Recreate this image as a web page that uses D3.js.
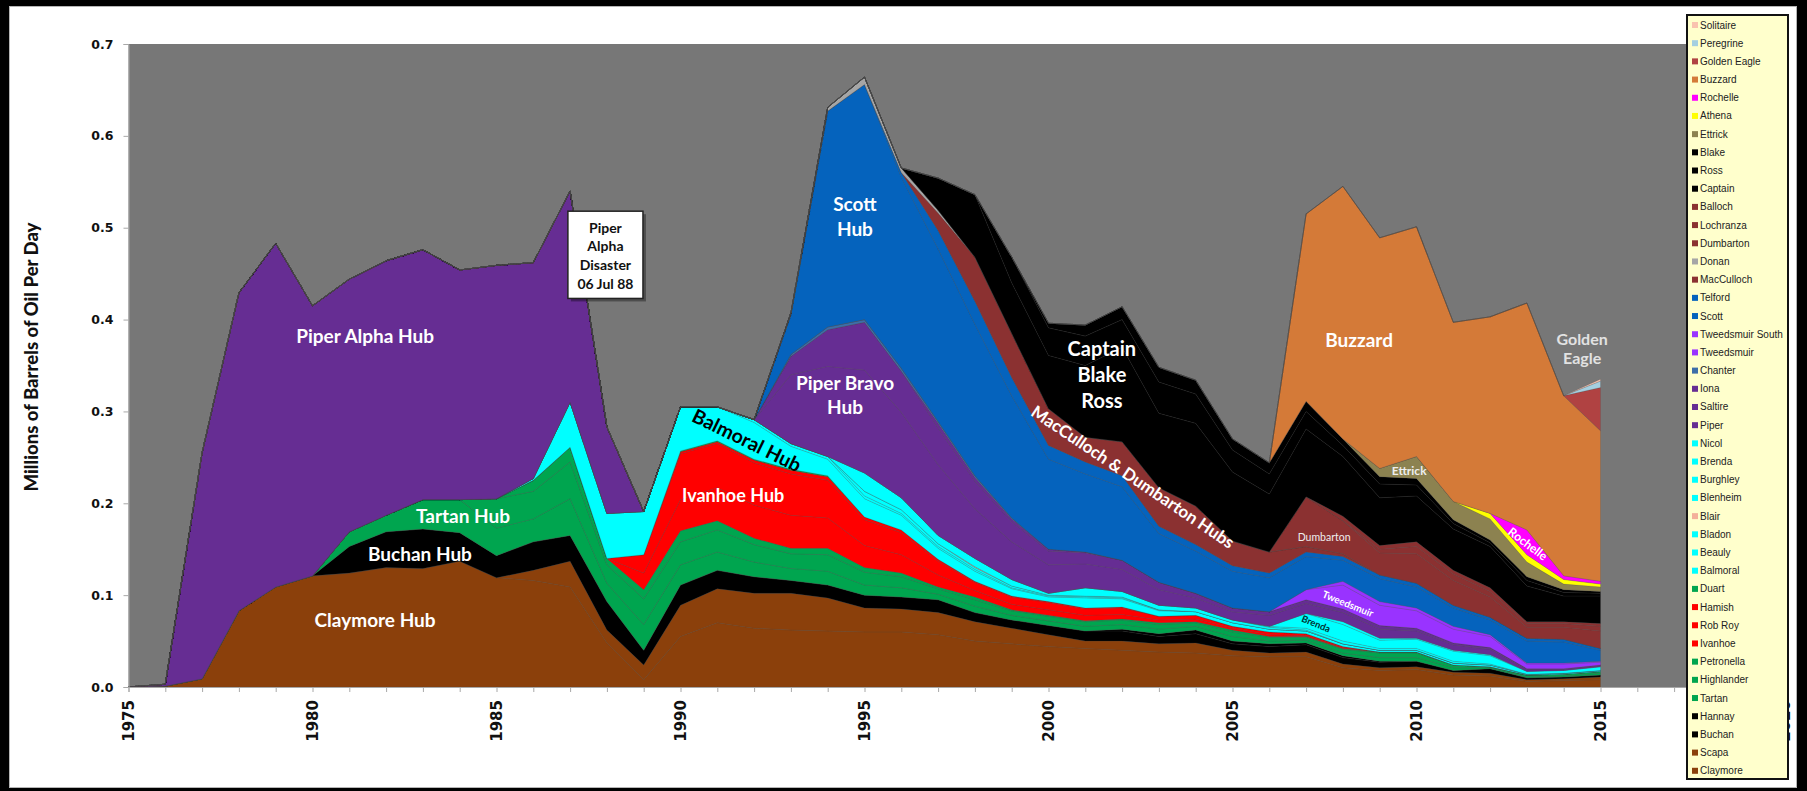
<!DOCTYPE html>
<html>
<head>
<meta charset="utf-8">
<script src="https://cdn.jsdelivr.net/npm/d3@7"></script>
<style>
  html, body { margin: 0; padding: 0; background: #000; }
  svg { display: block; }
</style>
</head>
<body>
<div id="chart"></div>
<script>
// oil production, millions of barrels per day
// each array starts at the field's first year; missing years are zero
const claymore = [0, 0.001, 0.009, 0.083, 0.109, 0.121, 0.124, 0.130, 0.129, 0.137, 0.119, 0.116, 0.109, 0.048, 0.008,
    0.055, 0.070, 0.064, 0.062, 0.061, 0.060, 0.060, 0.057, 0.050, 0.047, 0.044, 0.042, 0.040, 0.038, 0.037, 0.034,
    0.033, 0.033, 0.021, 0.018, 0.019, 0.013, 0.012, 0.006, 0.007, 0.008];                       // from 1975
const scapa = [0.011, 0.028, 0.014, 0.016, 0.034, 0.037, 0.038, 0.040, 0.036, 0.026, 0.025, 0.024, 0.021, 0.017,
    0.013, 0.008, 0.010, 0.009, 0.011, 0.006, 0.004, 0.005, 0.004, 0.003, 0.003, 0.003, 0.003, 0.002, 0.002, 0.003]; // 1986
const buchan = [0.029, 0.039, 0.043, 0.031, 0.024, 0.031, 0.028, 0.031, 0.016, 0.022, 0.020, 0.018, 0.014, 0.014,
    0.014, 0.013, 0.014, 0.010, 0.009, 0.010, 0.011, 0.011, 0.008, 0.010, 0.007, 0.007, 0.008, 0.007, 0.006, 0.006,
    0.002, 0.005, 0.002, 0.002, 0.002];                                                            // 1981
const hannay = [0.002, 0.003, 0.004, 0.003, 0.003, 0.002, 0.002, 0.001];                          // 2002
const tartan = [0.016, 0.018, 0.032, 0.036, 0.030, 0.025, 0.040, 0.020, 0.028, 0.022, 0.020, 0.016, 0.013, 0.015,
    0.011, 0.010, 0.006, 0.007, 0.005, 0.005, 0.005, 0.005, 0.005, 0.004, 0.005, 0.003, 0.003, 0.003, 0.004, 0.004,
    0.003, 0.001, 0.001, 0.001, 0.002];                                                            // 1981
const highlander = [0.032, 0.030, 0.040, 0.020, 0.028, 0.025, 0.024, 0.019, 0.016, 0.018, 0.014, 0.012, 0.006,
    0.007, 0.005, 0.005, 0.005, 0.005, 0.005, 0.004, 0.005, 0.004, 0.003, 0.004, 0.005, 0.005, 0.003, 0.001, 0.002,
    0.002, 0.002];                                                                                 // 1985
const petronella = [0.012, 0.016, 0.007, 0.010, 0.012, 0.010, 0.007, 0.006, 0.007, 0.005, 0.004, 0.002, 0.003,
    0.001, 0.001, 0.001, 0.001, 0.002, 0.001, 0.002, 0.001, 0.001, 0.001, 0.001, 0.001];           // 1986
const ivanhoe = [0.018, 0.034, 0.036, 0.036, 0.036, 0.033, 0.024, 0.020, 0.013, 0.007, 0.006, 0.006, 0.006, 0.005,
    0.003, 0.003, 0.002, 0.002, 0.001, 0.001];                                                     // 1989
const robRoy = [0.020, 0.050, 0.048, 0.046, 0.045, 0.041, 0.028, 0.024, 0.015, 0.009, 0.008, 0.008, 0.007, 0.007,
    0.004, 0.004, 0.002, 0.003, 0.002, 0.001];                                                     // 1989
const hamish = [0.002, 0.002, 0.003, 0.004, 0.004, 0.003, 0.003, 0.002, 0.001, 0.001, 0.001, 0.001, 0.001]; // 1990
const duart = [0.001, 0.001, 0.001, 0.001, 0.001];                                                // 1990
const balmoral = [0.002, 0.049, 0.049, 0.047, 0.048, 0.037, 0.040, 0.025, 0.018, 0.020, 0.016, 0.012, 0.011, 0.008,
    0.005, 0.011, 0.009, 0.006, 0.004, 0.004, 0.003, 0.003, 0.003, 0.002, 0.002, 0.002, 0.002, 0.001, 0.001, 0.001]; // 1986
const beauly = [0.003, 0.003, 0.003, 0.003, 0.002, 0.002, 0.002, 0.001, 0.001, 0.001, 0.001, 0.001]; // 1992
const bladon = [0.005, 0.004, 0.003, 0.002, 0.002, 0.001, 0.001, 0.001];                          // 1995
const blair = [0.001];                                                                            // 1998
const blenheim = [0.020, 0.013, 0.009, 0.009, 0.007, 0.002, 0.009, 0.006, 0.005, 0.004, 0.003, 0.002, 0.001]; // 1995
const burghley = [0.001, 0.002, 0.003, 0.002, 0.002, 0.002, 0.001];                               // 2006
const brenda = [0.016, 0.018, 0.009, 0.010, 0.011, 0.009, 0.003, 0.003, 0.004];                   // 2007
const nicol = [0.003, 0.002, 0.001, 0.001, 0.001];                                                // 2008
const piper = [0.002, 0.246, 0.346, 0.374, 0.294, 0.275, 0.277, 0.272, 0.250, 0.254, 0.235, 0.230, 0.094, 0, 0, 0,
    0, 0.075, 0.098, 0.112, 0.093, 0.077, 0.054, 0.041, 0.031, 0.026, 0.024, 0.017, 0.011, 0.009, 0.012, 0.011,
    0.010, 0.010, 0.008, 0.006, 0.006, 0.002, 0.001, 0.001];                                        // 1976
const saltire = [0.020, 0.040, 0.052, 0.045, 0.040, 0.030, 0.022, 0.015, 0.012, 0.010, 0.008, 0.005, 0.004, 0.004,
    0.004, 0.004, 0.004, 0.003, 0.002, 0.002, 0.001, 0.001, 0.001];                                // 1993
const iona = [0.005, 0.004, 0.003, 0.002, 0.001];                                                 // 1997
const chanter = [0.002, 0.003, 0.003, 0.003, 0.002, 0.002, 0.001];                                // 1993
const tweedsmuir = [0.011, 0.026, 0.022, 0.019, 0.015, 0.012, 0.005, 0.005, 0.003];               // 2007
const tweedsmuirSouth = [0.004, 0.004, 0.003, 0.003, 0.002, 0.001, 0.001, 0.001];                 // 2008
const scott = [0.043, 0.235, 0.256, 0.208, 0.188, 0.165, 0.133, 0.098, 0.085, 0.080, 0.053, 0.046, 0.040, 0.037,
    0.036, 0.023, 0.025, 0.023, 0.020, 0.016, 0.024, 0.023, 0.012];                                // 1993
const telford = [0.005, 0.020, 0.025, 0.020, 0.015, 0.013, 0.012, 0.008, 0.007, 0.006, 0.005, 0.005, 0.004, 0.004,
    0.004, 0.003, 0.003, 0.003, 0.003, 0.002];                                                     // 1996
const macCulloch = [0.019, 0.048, 0.048, 0.040, 0.027, 0.037, 0.042, 0.042, 0.027, 0.023, 0.006, 0.003]; // 1997
const donan = [0.002, 0.004, 0.008, 0.005, 0.003];                                                // 1993
const dumbarton = [0.054, 0.036, 0.024, 0.032, 0.027, 0.022, 0.012, 0.013, 0.019];                // 2007
const lochranza = [0.004, 0.008, 0.007, 0.006, 0.004, 0.004, 0.005];                              // 2009
const balloch = [0.005, 0.004, 0.005, 0.004, 0.004, 0.002, 0.002, 0.003];                         // 2008
const captain = [0.035, 0.068, 0.055, 0.058, 0.078, 0.103, 0.081, 0.090, 0.075, 0.063, 0.074, 0.065, 0.052, 0.050,
    0.045, 0.045, 0.039, 0.028, 0.030];                                                            // 1997
const ross = [0.028, 0.030, 0.032, 0.030, 0.034, 0.032, 0.024, 0.022, 0.019, 0.012, 0.015, 0.012, 0.006, 0.004,
    0.006, 0.004, 0.003];                                                                          // 1999
const blake = [0.005, 0.012, 0.014, 0.016, 0.015, 0.012, 0.012, 0.011, 0.007, 0.008, 0.007, 0.004, 0.003, 0.004,
    0.003, 0.002];                                                                                 // 2000
const ettrick = [0.009, 0.024, 0.020, 0.023, 0.016, 0.006, 0.005];                                // 2009
const athena = [0.006, 0.008, 0.005, 0.003];                                                      // 2012
const rochelle = [0.027, 0.004, 0.003];                                                           // 2013
const buzzard = [0.204, 0.275, 0.251, 0.250, 0.195, 0.214, 0.247, 0.196, 0.164];                  // 2007
const goldenEagle = [0.047];                                                                      // 2015
const peregrine = [0.007];                                                                        // 2015
const solitaire = [0.002];                                                                        // 2015

const years = d3.range(1975, 2016);
const yTicks = [0, 0.1, 0.2, 0.3, 0.4, 0.5, 0.6, 0.7];

// stack order, bottom to top (legend lists it the other way round)
const fields = [
    { name: 'Claymore', first: 1975, values: claymore, color: '#8b400b' },
    { name: 'Scapa', first: 1986, values: scapa, color: '#8b400b' },
    { name: 'Buchan', first: 1981, values: buchan, color: '#000000' },
    { name: 'Hannay', first: 2002, values: hannay, color: '#000000' },
    { name: 'Tartan', first: 1981, values: tartan, color: '#00a54f' },
    { name: 'Highlander', first: 1985, values: highlander, color: '#00a54f' },
    { name: 'Petronella', first: 1986, values: petronella, color: '#00a54f' },
    { name: 'Ivanhoe', first: 1989, values: ivanhoe, color: '#ff0000' },
    { name: 'Rob Roy', first: 1989, values: robRoy, color: '#ff0000' },
    { name: 'Hamish', first: 1990, values: hamish, color: '#ff0000' },
    { name: 'Duart', first: 1990, values: duart, color: '#00a54f' },
    { name: 'Balmoral', first: 1986, values: balmoral, color: '#00ffff' },
    { name: 'Beauly', first: 1992, values: beauly, color: '#00ffff' },
    { name: 'Bladon', first: 1995, values: bladon, color: '#00ffff' },
    { name: 'Blair', first: 1998, values: blair, color: '#f4b09a' },
    { name: 'Blenheim', first: 1995, values: blenheim, color: '#00ffff' },
    { name: 'Burghley', first: 2006, values: burghley, color: '#00ffff' },
    { name: 'Brenda', first: 2007, values: brenda, color: '#00ffff' },
    { name: 'Nicol', first: 2008, values: nicol, color: '#00ffff' },
    { name: 'Piper', first: 1976, values: piper, color: '#662d93' },
    { name: 'Saltire', first: 1993, values: saltire, color: '#662d93' },
    { name: 'Iona', first: 1997, values: iona, color: '#662d93' },
    { name: 'Chanter', first: 1993, values: chanter, color: '#3d6ea8' },
    { name: 'Tweedsmuir', first: 2007, values: tweedsmuir, color: '#9933ff' },
    { name: 'Tweedsmuir South', first: 2008, values: tweedsmuirSouth, color: '#9933ff' },
    { name: 'Scott', first: 1993, values: scott, color: '#0563bd' },
    { name: 'Telford', first: 1996, values: telford, color: '#0563bd' },
    { name: 'MacCulloch', first: 1997, values: macCulloch, color: '#8b3131' },
    { name: 'Donan', first: 1993, values: donan, color: '#a6a6a6' },
    { name: 'Dumbarton', first: 2007, values: dumbarton, color: '#8b3131' },
    { name: 'Lochranza', first: 2009, values: lochranza, color: '#8b3131' },
    { name: 'Balloch', first: 2008, values: balloch, color: '#8b3131' },
    { name: 'Captain', first: 1997, values: captain, color: '#000000' },
    { name: 'Ross', first: 1999, values: ross, color: '#000000' },
    { name: 'Blake', first: 2000, values: blake, color: '#000000' },
    { name: 'Ettrick', first: 2009, values: ettrick, color: '#8c8250' },
    { name: 'Athena', first: 2012, values: athena, color: '#ffff00' },
    { name: 'Rochelle', first: 2013, values: rochelle, color: '#ff00ff' },
    { name: 'Buzzard', first: 2007, values: buzzard, color: '#d47a38' },
    { name: 'Golden Eagle', first: 2015, values: goldenEagle, color: '#b04242' },
    { name: 'Peregrine', first: 2015, values: peregrine, color: '#a5cfe0' },
    { name: 'Solitaire', first: 2015, values: solitaire, color: '#f9c3af' }
];

// text placed on the chart, positioned in data units (year, value)
const hubLabels = [
    { lines: ['Piper Alpha Hub'], year: 1981.43, value: 0.383, size: 19 },
    { lines: ['Tartan Hub'], year: 1984.09, value: 0.187, size: 19 },
    { lines: ['Buchan Hub'], year: 1982.92, value: 0.145, size: 19 },
    { lines: ['Claymore Hub'], year: 1981.70, value: 0.074, size: 19 },
    { lines: ['Ivanhoe Hub'], year: 1991.43, value: 0.209, size: 18 },
    { lines: ['Piper Bravo', 'Hub'], year: 1994.47, value: 0.332, size: 19 },
    { lines: ['Scott', 'Hub'], year: 1994.74, value: 0.526, size: 19 },
    { lines: ['Captain', 'Blake', 'Ross'], year: 2001.45, value: 0.369, size: 20 },
    { lines: ['Buzzard'], year: 2008.44, value: 0.378, size: 19 },
    { lines: ['Golden', 'Eagle'], year: 2014.50, value: 0.379, size: 16, color: '#e2e2e2', step: 19 },
    { lines: ['Ettrick'], year: 2009.80, value: 0.236, size: 12, color: '#eeeeee' },
    { lines: ['Dumbarton'], year: 2007.49, value: 0.163, size: 10.5, color: '#eeeeee', weight: 'normal' },
    { lines: ['Balmoral Hub'], year: 1991.81, value: 0.269, size: 19.5, color: '#000000', angle: 26 },
    { lines: ['MacCulloch & Dumbarton Hubs'], year: 2002.30, value: 0.229, size: 17, angle: 34 },
    { lines: ['Tweedsmuir'], year: 2008.14, value: 0.091, size: 10, angle: 22 },
    { lines: ['Brenda'], year: 2007.27, value: 0.069, size: 9.5, color: '#003333', angle: 22 },
    { lines: ['Rochelle'], year: 2013.03, value: 0.156, size: 12, angle: 37 }
];
const disasterNote = ['Piper', 'Alpha', 'Disaster', '06 Jul 88'];

const width = 1807;
const height = 791;

var svg = d3.select('#chart').append('svg')
    .attr('width', width)
    .attr('height', height);

svg.append('rect')
    .attr('width', width)
    .attr('height', height)
    .attr('fill', '#000');

svg.append('rect')
    .attr('x', 9.5)
    .attr('y', 6.5)
    .attr('width', 1787)
    .attr('height', 781)
    .attr('fill', '#fff')
    .attr('stroke', '#b5b5b5');

var x = d3.scaleLinear()
    .domain([1975, 2020])
    .range([128.5, 1784.5]);

var y = d3.scaleLinear()
    .domain([0, 0.7])
    .range([687, 44]);

svg.append('rect')
    .attr('x', x(1975))
    .attr('y', y(0.7))
    .attr('width', x(2020) - x(1975))
    .attr('height', y(0) - y(0.7))
    .attr('fill', '#777777');

var rows = years.map(function (yr) {
    let row = { year: yr };
    fields.forEach(function (f) {
        let v = f.values[yr - f.first];
        row[f.name] = v === undefined ? 0 : v;
    });
    return row;
});

var stack = d3.stack()
    .keys(fields.map(f => f.name))
    .order(d3.stackOrderNone)
    .offset(d3.stackOffsetNone);

var layers = stack(rows);

var area = d3.area()
    .x(d => x(d.data.year))
    .y0(d => y(d[0]))
    .y1(d => y(d[1]));

svg.append('g')
    .selectAll('path')
    .data(layers)
    .enter()
    .append('path')
    .attr('d', area)
    .attr('fill', (d, i) => fields[i].color)
    .attr('stroke', 'rgba(70,70,70,0.35)')
    .attr('stroke-width', 0.5);

// axes
var xAxis = d3.axisBottom(x)
    .tickValues(d3.range(1975, 2021))
    .tickSize(5)
    .tickFormat(d => d % 5 === 0 ? d : '');

var gx = svg.append('g')
    .attr('transform', 'translate(0,' + y(0) + ')')
    .call(xAxis);

gx.select('.domain').attr('stroke', '#a8a8a8');
gx.selectAll('.tick line').attr('stroke', '#a8a8a8');
gx.selectAll('.tick text')
    .attr('transform', 'rotate(-90)')
    .attr('x', -13)
    .attr('y', 0)
    .attr('dy', '0.36em')
    .attr('text-anchor', 'end')
    .attr('fill', '#111')
    .style('font-family', '"DejaVu Sans", Verdana, sans-serif')
    .style('font-weight', 'bold')
    .style('font-size', '15px');

var yAxis = d3.axisLeft(y)
    .tickValues(yTicks)
    .tickSize(5)
    .tickPadding(10)
    .tickFormat(d3.format('.1f'));

var gy = svg.append('g')
    .attr('transform', 'translate(' + x(1975) + ',0)')
    .call(yAxis);

gy.select('.domain').attr('stroke', '#a8a8a8');
gy.selectAll('.tick line').attr('stroke', '#a8a8a8');
gy.selectAll('.tick text')
    .attr('fill', '#111')
    .style('font-family', '"DejaVu Sans", Verdana, sans-serif')
    .style('font-weight', 'bold')
    .style('font-size', '12.5px');

svg.append('text')
    .attr('transform', 'translate(31,' + 357 + ')rotate(-90)')
    .attr('text-anchor', 'middle')
    .attr('dominant-baseline', 'central')
    .style('font-family', 'Lato, "Open Sans", sans-serif')
    .style('font-weight', '900')
    .style('font-size', '18.5px')
    .attr('fill', '#111')
    .text('Millions of Barrels of Oil Per Day');

// labels on the areas
hubLabels.forEach(function (lab) {
    let size = lab.size;
    let step = lab.step || size * 1.3;
    let t = svg.append('text')
        .attr('transform', 'translate(' + x(lab.year) + ',' + y(lab.value) + ')rotate(' + (lab.angle || 0) + ')')
        .attr('text-anchor', 'middle')
        .attr('fill', lab.color || '#ffffff')
        .style('font-family', 'Lato, "Open Sans", sans-serif')
        .style('font-weight', lab.weight || 'bold')
        .style('font-size', size + 'px');
    lab.lines.forEach(function (line, i) {
        t.append('tspan')
            .attr('x', 0)
            .attr('y', i * step)
            .attr('dominant-baseline', 'central')
            .text(line);
    });
});

// Piper Alpha disaster note
var noteLeft = x(1986.94);
var noteTop = y(0.518);
var noteW = x(1988.98) - noteLeft;
var noteH = y(0.423) - noteTop;

svg.append('rect')
    .attr('x', noteLeft + 3)
    .attr('y', noteTop + 3)
    .attr('width', noteW)
    .attr('height', noteH)
    .attr('fill', 'rgba(0,0,0,0.35)');

svg.append('rect')
    .attr('x', noteLeft)
    .attr('y', noteTop)
    .attr('width', noteW)
    .attr('height', noteH)
    .attr('fill', '#fff')
    .attr('stroke', '#222')
    .attr('stroke-width', 1.5);

var note = svg.append('text')
    .attr('text-anchor', 'middle')
    .attr('fill', '#111')
    .style('font-family', 'Lato, "Open Sans", sans-serif')
    .style('font-weight', 'bold')
    .style('font-size', '14px');

disasterNote.forEach(function (line, i) {
    note.append('tspan')
        .attr('x', noteLeft + noteW / 2)
        .attr('y', noteTop + 16 + i * 18.8)
        .attr('dominant-baseline', 'central')
        .text(line);
});

// legend
var legendItems = fields.slice().reverse();
var legend = svg.append('g');

legend.append('rect')
    .attr('x', 1687)
    .attr('y', 15)
    .attr('width', 101)
    .attr('height', 764)
    .attr('fill', '#ffffcc')
    .attr('stroke', '#111')
    .attr('stroke-width', 2);

var item = legend.selectAll('g.item')
    .data(legendItems)
    .enter()
    .append('g')
    .attr('class', 'item')
    .attr('transform', (d, i) => 'translate(1692,' + (25 + i * 18.19) + ')');

item.append('rect')
    .attr('x', 0)
    .attr('y', -3)
    .attr('width', 6)
    .attr('height', 6)
    .attr('fill', d => d.color);

item.append('text')
    .attr('x', 8)
    .attr('y', 0)
    .attr('dominant-baseline', 'central')
    .attr('fill', '#222')
    .style('font-family', '"Liberation Sans", Arial, sans-serif')
    .style('font-size', '10px')
    .text(d => d.name);
</script>
</body>
</html>
